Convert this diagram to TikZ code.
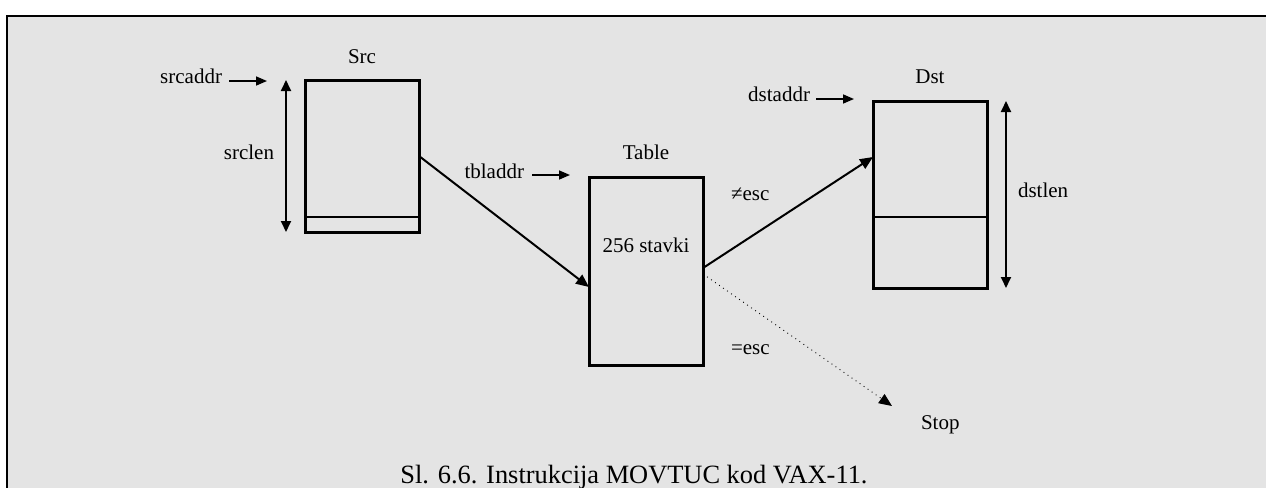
\documentclass[tikz,border=0pt]{standalone}
\usepackage{fontspec}
\setmainfont{Liberation Serif}
\usetikzlibrary{arrows.meta,calc}
\definecolor{bg}{HTML}{E4E4E4}
\tikzset{
  membox/.style={draw=black, line width=1.5pt, rectangle, inner sep=0pt, outer sep=0pt, minimum width=57pt},
  lbl/.style={inner sep=0pt, outer sep=0pt, font=\fontsize{10.5}{12}\selectfont},
  ptr/.style={line width=0.8pt, -{Triangle[length=5.5pt,width=4.5pt]}},
  dim/.style={line width=0.9pt, {Triangle[length=5.5pt,width=5pt]}-{Triangle[length=5.5pt,width=5pt]}},
  conn/.style={line width=1pt, -{Triangle[length=6.5pt,width=5.5pt]}},
  dotconn/.style={line width=0.45pt, dotted, -{Triangle[length=6.5pt,width=5.5pt]}},
  divider/.style={line width=1.2pt}
}
\begin{document}
\begin{tikzpicture}[x=0.5pt,y=-0.5pt]
\useasboundingbox (0,0) rectangle (1266,488);
\clip (0,0) rectangle (1266,488);
\draw[line width=1pt, fill=bg] (6.5,15.5) rectangle (1300,530);

% boxes
\node[membox, minimum height=76pt] (src) at (362,156) {};
\node[membox, minimum height=94pt] (tbl) at (646,271) {};
\node[membox, minimum height=93.5pt] (dst) at (930,194.5) {};
\draw[divider] ($(src.south west)+(0,-15)$) -- ($(src.south east)+(0,-15)$);
\draw[divider] ($(dst.south west)+(0,-71)$) -- ($(dst.south east)+(0,-71)$);

% titles
\node[lbl, anchor=base] (srct) at (362,63) {Src};
\node[lbl, anchor=base] (tblt) at (646,159) {Table};
\node[lbl, anchor=base] (dstt) at (930,83) {Dst};
\node[lbl, anchor=base] (stavki) at (646,252) {256 stavki};

% address pointers
\node[lbl, anchor=base east] (srcaddr) at (222,83) {srcaddr};
\coordinate (sa0) at (229,81); \coordinate (sa1) at (267,81);
\draw[ptr] (sa0) -- (sa1);
\node[lbl, anchor=base east] (tbladdr) at (524,178) {tbladdr};
\coordinate (ta0) at (532,175); \coordinate (ta1) at (570,175);
\draw[ptr] (ta0) -- (ta1);
\node[lbl, anchor=base east] (dstaddr) at (810,101) {dstaddr};
\coordinate (da0) at (816,99); \coordinate (da1) at (854,99);
\draw[ptr] (da0) -- (da1);

% lengths
\node[lbl, anchor=base east] (srclen) at (274,159) {srclen};
\coordinate (sl0) at (286,80); \coordinate (sl1) at (286,232);
\draw[dim] (sl0) -- (sl1);
\node[lbl, anchor=base west] (dstlen) at (1018,197) {dstlen};
\coordinate (dl0) at (1006,101); \coordinate (dl1) at (1006,288);
\draw[dim] (dl0) -- (dl1);

% flow
\draw[conn] (src.east) -- ($(tbl.west)+(0,16)$);
\draw[conn] ($(tbl.east)+(0,-3)$) -- ($(dst.west)+(0,-37.5)$);
\node[lbl, anchor=base west] (ne) at (731,200) {≠esc};
\node[lbl, anchor=base west] (eq) at (731,354) {=esc};
\node[lbl, anchor=base west] (stop) at (921,429) {Stop};
\coordinate (stoptip) at (892,406);
\draw[dotconn] ($(tbl.east)+(0,3)$) -- (stoptip);

% caption
\node[inner sep=0pt, anchor=base, font=\fontsize{13.2}{15}\selectfont] (cap) at (634,483) {Sl. 6.6. Instrukcija MOVTUC kod VAX-11.};
\end{tikzpicture}
\end{document}
